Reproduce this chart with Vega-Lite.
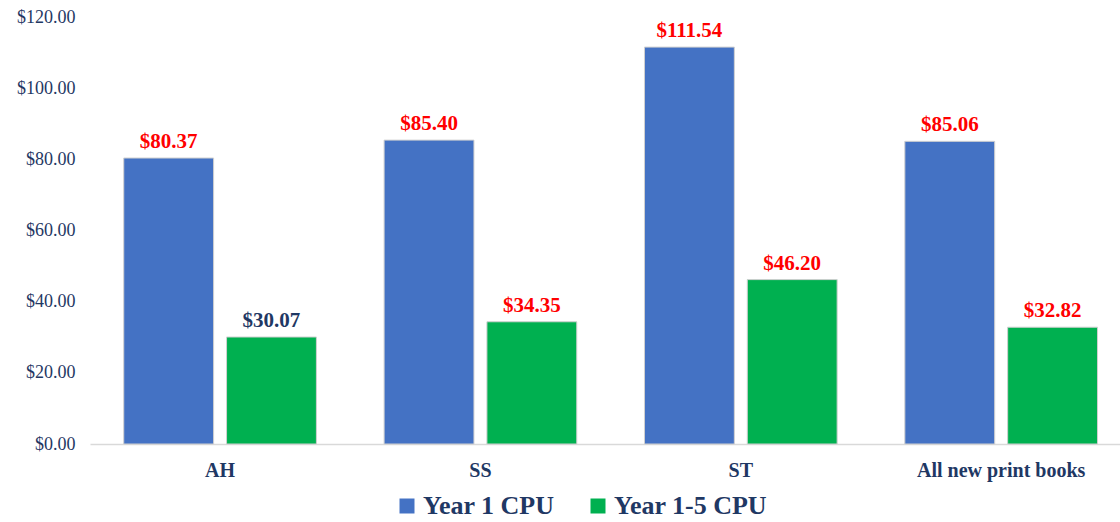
{
  "$schema": "https://vega.github.io/schema/vega-lite/v6.json",
  "width": 1030,
  "height": 427,
  "autosize": {"type": "none"},
  "padding": {"left": 90, "top": 17, "right": 0, "bottom": 78},
  "background": "white",
  "config": {
    "view": {"stroke": null},
    "font": "Liberation Serif"
  },
  "data": {
    "values": [
      {"cat": "AH", "series": "Year 1 CPU", "value": 80.37},
      {"cat": "AH", "series": "Year 1-5 CPU", "value": 30.07},
      {"cat": "SS", "series": "Year 1 CPU", "value": 85.40},
      {"cat": "SS", "series": "Year 1-5 CPU", "value": 34.35},
      {"cat": "ST", "series": "Year 1 CPU", "value": 111.54},
      {"cat": "ST", "series": "Year 1-5 CPU", "value": 46.20},
      {"cat": "All new print books", "series": "Year 1 CPU", "value": 85.06},
      {"cat": "All new print books", "series": "Year 1-5 CPU", "value": 32.82}
    ]
  },
  "encoding": {
    "x": {
      "field": "cat", "type": "nominal", "sort": null,
      "scale": {"paddingInner": 0.26, "paddingOuter": 0.108, "align": 0.6},
      "axis": {
        "title": null, "labelAngle": 0, "ticks": false,
        "domainColor": "#D9D9D9", "domainWidth": 1.5,
        "labelFont": "Liberation Serif", "labelFontSize": 20, "labelFontWeight": "bold",
        "labelColor": "#1F3864", "labelPadding": 16
      }
    },
    "xOffset": {
      "field": "series", "type": "nominal",
      "scale": {"paddingInner": 0.126, "paddingOuter": 0}
    },
    "y": {
      "field": "value", "type": "quantitative",
      "scale": {"domain": [0, 120], "nice": false},
      "axis": {
        "title": null, "format": "$,.2f", "values": [0, 20, 40, 60, 80, 100, 120],
        "grid": false, "domain": false, "ticks": false,
        "labelFont": "Liberation Serif", "labelFontSize": 18, "labelColor": "#1F3864",
        "labelPadding": 15
      }
    }
  },
  "layer": [
    {
      "mark": {"type": "bar", "stroke": "#D0D0D0", "strokeWidth": 1},
      "encoding": {
        "color": {
          "field": "series", "type": "nominal",
          "scale": {"domain": ["Year 1 CPU", "Year 1-5 CPU"], "range": ["#4472C4", "#00B050"]},
          "legend": {
            "title": null, "orient": "none", "legendX": 304, "legendY": 476,
            "direction": "horizontal", "symbolType": "square", "symbolSize": 225,
            "symbolStrokeWidth": 0,
            "labelFont": "Liberation Serif", "labelFontSize": 26, "labelFontWeight": "bold",
            "labelColor": "#1F3864", "columnPadding": 30, "labelOffset": 3, "labelLimit": 400
          }
        }
      }
    },
    {
      "mark": {"type": "text", "baseline": "alphabetic", "dy": -10, "fontSize": 21, "fontWeight": "bold", "font": "Liberation Serif"},
      "encoding": {
        "text": {"field": "value", "type": "quantitative", "format": "$,.2f"},
        "color": {
          "condition": {"test": "datum.cat === 'AH' && datum.series === 'Year 1-5 CPU'", "value": "#1F3864"},
          "value": "#FF0000"
        }
      }
    }
  ]
}
